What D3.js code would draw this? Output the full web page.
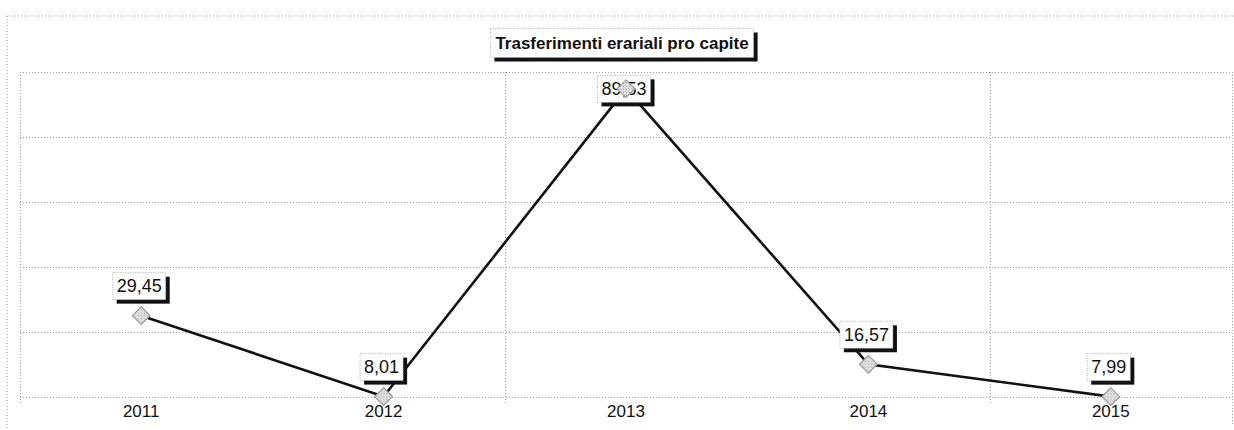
<!DOCTYPE html>
<html>
<head>
<meta charset="utf-8">
<script src="https://cdn.jsdelivr.net/npm/d3@7"></script>
<style>
  html, body { margin: 0; padding: 0; background: #fff; }
  svg { display: block; font-family: "Liberation Sans", Arial, sans-serif; }
</style>
</head>
<body>
<svg id="chart" width="1234" height="430"></svg>
<script>
const chartTitle = "Trasferimenti erariali pro capite";
const categories = ["2011", "2012", "2013", "2014", "2015"];
const values = [29.45, 8.01, 89.53, 16.57, 7.99];
const yDomain = [7.9, 94];
const yGrid = [7.9, 25.12, 42.34, 59.56, 76.78, 94];
const xGridEvery = 2;

const W = 1234, H = 430;
const plot = { left: 20, right: 1232, top: 72, bottom: 397 };
const svg = d3.select("#chart");

const x = d3.scaleBand().domain(categories).range([plot.left, plot.right]).paddingInner(0).paddingOuter(0);
const xc = d => x(d) + x.bandwidth() / 2;
const y = d3.scaleLinear().domain(yDomain).range([plot.bottom, plot.top]);

// marker pattern
const defs = svg.append("defs");
const pat = defs.append("pattern").attr("id", "hatch").attr("patternUnits", "userSpaceOnUse")
  .attr("width", 3).attr("height", 3);
pat.append("rect").attr("width", 3).attr("height", 3).attr("fill", "#e2e2e2");
pat.append("rect").attr("width", 1).attr("height", 1).attr("fill", "#a8a8a8");
pat.append("rect").attr("x", 2).attr("y", 2).attr("width", 1).attr("height", 1).attr("fill", "#bdbdbd");

// outer chart border (dotted)
const gridColor = "#a0a0a0";
svg.append("line").attr("x1", 6).attr("x2", W).attr("y1", 16).attr("y2", 16)
  .attr("stroke", gridColor).attr("stroke-dasharray", "1,2");
svg.append("line").attr("x1", 7).attr("x2", 7).attr("y1", 16).attr("y2", H)
  .attr("stroke", gridColor).attr("stroke-dasharray", "1,2");

// horizontal gridlines
svg.append("g").selectAll("line").data(yGrid).join("line")
  .attr("x1", plot.left).attr("x2", plot.right)
  .attr("y1", d => Math.round(y(d)) + 0.5).attr("y2", d => Math.round(y(d)) + 0.5)
  .attr("stroke", gridColor).attr("stroke-dasharray", "1,2");

// vertical gridlines at category boundaries
const boundaries = categories.map((c, i) => i).filter(i => i % xGridEvery === 0).map(i => x(categories[i]));
svg.append("g").selectAll("line").data(boundaries).join("line")
  .attr("x1", d => Math.round(d) + 0.5).attr("x2", d => Math.round(d) + 0.5)
  .attr("y1", plot.top).attr("y2", plot.bottom + 8)
  .attr("stroke", gridColor).attr("stroke-dasharray", "1,2");
svg.append("line").attr("x1", plot.right + 0.5).attr("x2", plot.right + 0.5)
  .attr("y1", plot.top).attr("y2", plot.bottom + 28)
  .attr("stroke", gridColor).attr("stroke-dasharray", "1,2");

// category labels
svg.append("g").selectAll("text").data(categories).join("text")
  .attr("x", d => xc(d)).attr("y", 417)
  .attr("text-anchor", "middle").attr("font-size", 17).attr("fill", "#111")
  .text(d => d);

// line
const pts = categories.map((c, i) => ({ c, v: values[i] }));
svg.append("path").datum(pts)
  .attr("d", d3.line().x(d => xc(d.c)).y(d => y(d.v)))
  .attr("fill", "none").attr("stroke", "#111").attr("stroke-width", 2.6);

// boxed label helper
function boxedText(g, cx, cy, txt, size, weight, padX, h) {
  const t = g.append("text").attr("x", cx).attr("y", cy)
    .attr("text-anchor", "middle").attr("dominant-baseline", "central")
    .attr("font-size", size).attr("font-weight", weight).attr("fill", "#111").text(txt);
  const w = t.node().getComputedTextLength() + padX * 2;
  const bx = cx - w / 2, by = cy - h / 2;
  g.insert("rect", "text").attr("x", bx + 4).attr("y", by + 4).attr("width", w).attr("height", h).attr("fill", "#111");
  g.insert("rect", "text").attr("x", bx).attr("y", by).attr("width", w).attr("height", h)
    .attr("fill", "#fff").attr("stroke", "#aaa").attr("stroke-width", 1).attr("stroke-dasharray", "1,1.5");
}

// data labels
const labelH = 27;
const lg = svg.append("g");
pts.forEach(p => {
  const mx = xc(p.c), my = y(p.v);
  let top = my - 12 - 4 - labelH;
  if (top < plot.top + 3) top = my - labelH / 2;
  const g = lg.append("g");
  boxedText(g, mx - 2, top + labelH / 2, p.v.toFixed(2).replace(".", ","), 18, "normal", 4, labelH);
});

// markers
svg.append("g").selectAll("path").data(pts).join("path")
  .attr("transform", d => `translate(${xc(d.c)},${y(d.v)})`)
  .attr("d", d3.symbol().type(d3.symbolDiamond2).size(200))
  .attr("fill", "url(#hatch)").attr("stroke", "#9a9a9a").attr("stroke-width", 1.2);

// title
const tg = svg.append("g");
boxedText(tg, 622, 43, chartTitle, 17, "bold", 5, 29);
</script>
</body>
</html>
